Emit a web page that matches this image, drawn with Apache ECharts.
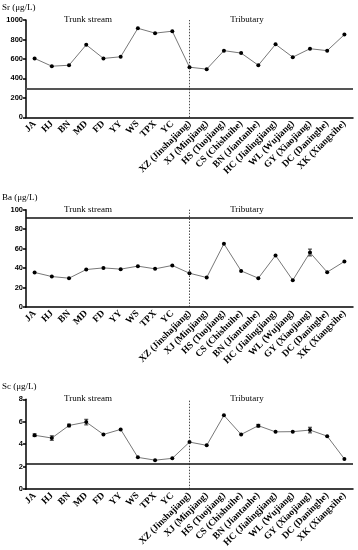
<!DOCTYPE html>
<html><head><meta charset="utf-8">
<script src="https://cdn.jsdelivr.net/npm/echarts@6/dist/echarts.min.js"></script>
<style>html,body{margin:0;padding:0;background:#fff}#c{width:358px;height:550px}</style>
</head><body><div id="c"></div>
<script>
const categories = ['JA','HJ','BN','MD','FD','YY','WS','TPX','YC','XZ (Jinshajiang)','XJ (Minjiang)','HS (Tuojiang)','CS (Chishuihe)','BN (Jiantanhe)','HC (Jialingjiang)','WL (Wujiang)','GY (Xiaojiang)','DC (Daninghe)','XK (Xiangxihe)'];
const srValues = [605,525,535,745,605,622,915,865,885,515,495,685,660,535,750,618,705,685,850];
const srErrors = [0,0,0,0,0,0,0,0,0,0,0,0,0,0,0,0,0,0,0];
const baValues = [35.5,31.3,29.6,38.5,40.2,38.9,42,39.2,42.7,34.7,30.3,65,37.1,29.6,53,27.5,56,35.8,46.8];
const baErrors = [0,0,0,0,0,0,0,0,0,0,0,0,0,0,0,0,3.5,0,0];
const scValues = [4.8,4.55,5.67,5.97,4.87,5.32,2.83,2.58,2.74,4.19,3.9,6.57,4.87,5.65,5.1,5.12,5.26,4.72,2.69];
const scErrors = [0.12,0.2,0.12,0.25,0,0,0,0,0,0,0,0,0,0.12,0,0,0.25,0,0];
const srRef = 290, baRef = 92.2, scRef = 2.28;
const panels = [
  {title:'Sr (μg/L)', values:srValues, errors:srErrors, ref:srRef, refColor:'#555', refWidth:2, max:1000, interval:200, top:20},
  {title:'Ba (μg/L)', values:baValues, errors:baErrors, ref:baRef, refColor:'#111', refWidth:1.5, max:100, interval:20, top:209.7},
  {title:'Sc (μg/L)', values:scValues, errors:scErrors, ref:scRef, refColor:'#111', refWidth:1.5, max:8, interval:2, top:399.3}
];
const gridH = 97.3, gridL = 26, gridR = 5;
const chart = echarts.init(document.getElementById('c'), null, {renderer:'canvas'});
const grid = [], xAxis = [], yAxis = [], series = [], graphic = [];
panels.forEach((p,i)=>{
  grid.push({left:gridL, right:gridR, top:p.top, height:gridH});
  xAxis.push({type:'category', gridIndex:i, data:categories, boundaryGap:true,
    axisLine:{lineStyle:{color:'#000', width:1.5}},
    axisTick:{alignWithLabel:true, length:3, lineStyle:{color:'#000', width:1.5}},
    axisLabel:{interval:0, rotate:45, fontSize:9.5, fontWeight:'bold', fontFamily:'Liberation Serif', color:'#000', margin:5}});
  yAxis.push({type:'value', gridIndex:i, min:0, max:p.max, interval:p.interval,
    axisLine:{show:true, lineStyle:{color:'#000', width:1.5}},
    axisTick:{show:true, length:3, lineStyle:{color:'#000', width:1.5}},
    splitLine:{show:false},
    axisLabel:{fontSize:7.5, fontWeight:'bold', fontFamily:'Liberation Sans', color:'#000', margin:3, formatter:v=>String(v)}});
  series.push({type:'line', xAxisIndex:i, yAxisIndex:i, data:p.values,
    symbol:'circle', symbolSize:4, itemStyle:{color:'#000'},
    lineStyle:{color:'#777', width:1}, z:3,
    markLine:{silent:true, symbol:'none', label:{show:false},
      data:[
        {yAxis:p.ref, lineStyle:{color:p.refColor, width:p.refWidth, type:'solid'}},
        {xAxis:9, lineStyle:{color:'#222', width:0.8, type:[1.5,1.5]}}
      ]}});
  series.push({type:'custom', xAxisIndex:i, yAxisIndex:i, z:4,
    data:p.values.map((v,k)=>[k,v,p.errors[k]]).filter(d=>d[2]>0),
    renderItem:(params,api)=>{
      const x=api.value(0), v=api.value(1), e=api.value(2);
      const t=api.coord([x,v+e]), b=api.coord([x,v-e]);
      const st={stroke:'#000', lineWidth:0.8};
      return {type:'group', children:[
        {type:'line', shape:{x1:t[0],y1:t[1],x2:b[0],y2:b[1]}, style:st},
        {type:'line', shape:{x1:t[0]-2,y1:t[1],x2:t[0]+2,y2:t[1]}, style:st},
        {type:'line', shape:{x1:b[0]-2,y1:b[1],x2:b[0]+2,y2:b[1]}, style:st}
      ]};
    }});
  graphic.push({type:'text', left:2, top:p.top-17, style:{text:p.title, font:'9px "Liberation Serif"', fill:'#000'}});
  graphic.push({type:'text', x:88, y:p.top-0.5, style:{text:'Trunk stream', font:'9px "Liberation Serif"', fill:'#000', align:'center', verticalAlign:'middle'}});
  graphic.push({type:'text', x:247, y:p.top-0.5, style:{text:'Tributary', font:'9px "Liberation Serif"', fill:'#000', align:'center', verticalAlign:'middle'}});
});
chart.setOption({animation:false, grid, xAxis, yAxis, series, graphic});
</script></body></html>
